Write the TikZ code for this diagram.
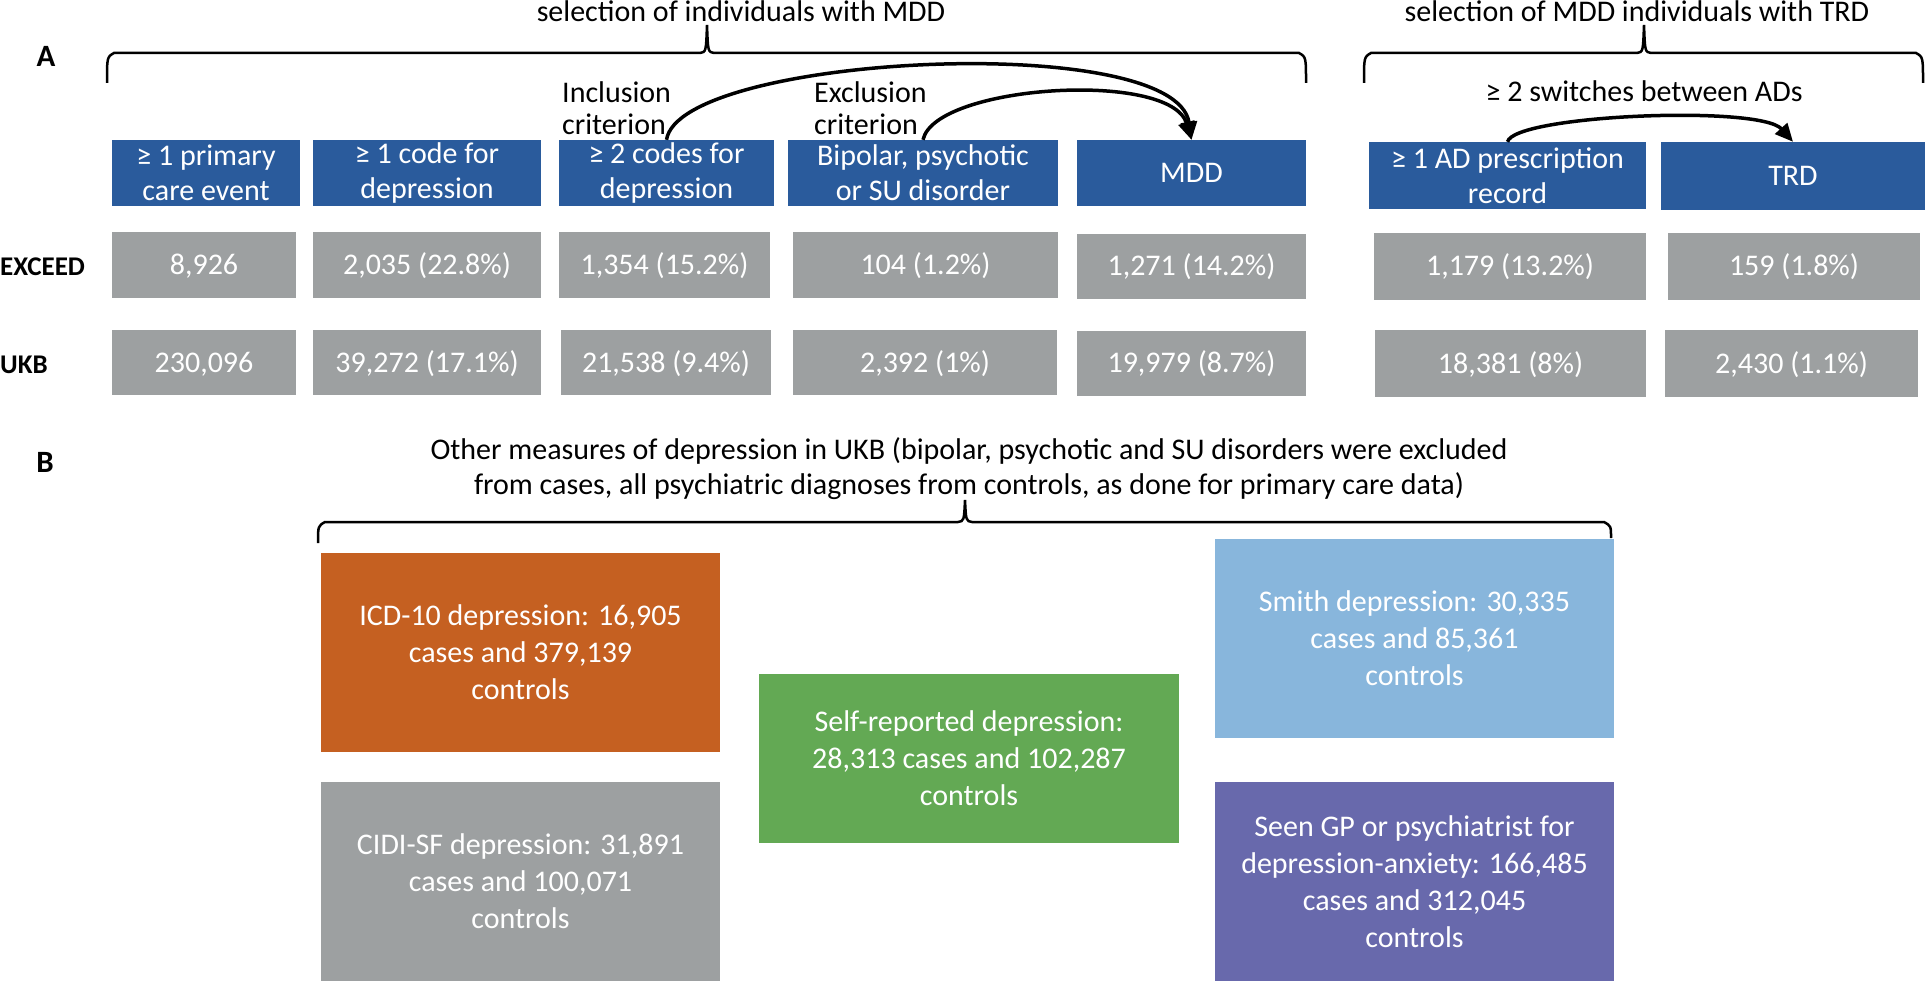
\documentclass[tikz,border=0pt]{standalone}
\usepackage{fontspec}
\setmainfont{Carlito}
\usetikzlibrary{arrows.meta}
\definecolor{hdrblue}{RGB}{42,91,156}
\definecolor{cntgray}{RGB}{157,160,161}
\definecolor{icdorange}{RGB}{197,96,33}
\definecolor{selfgreen}{RGB}{99,169,84}
\definecolor{smithblue}{RGB}{136,182,220}
\definecolor{gppurple}{RGB}{104,105,172}
\begin{document}
\begin{tikzpicture}[x=1pt, y=-1pt,
  hdr/.style={fill=hdrblue, text=white, align=center, inner sep=0pt, minimum height=66pt, font=\fontsize{30}{35}\selectfont},
  cnt/.style={fill=cntgray, text=white, inner sep=0pt, minimum height=66pt, text height=19pt, text depth=0pt, font=\fontsize{30}{35}\selectfont},
  msr/.style={text=white, align=center, inner sep=0pt, minimum width=399pt, minimum height=199pt, font=\fontsize{30}{37}\selectfont},
  ttl/.style={inner sep=0pt, font=\fontsize{30}{35}\selectfont},
  panel/.style={inner sep=0pt, anchor=base, font=\fontsize{31}{35}\selectfont\bfseries},
  row/.style={inner sep=0pt, anchor=base west, font=\fontsize{27}{32}\selectfont\bfseries},
  brace/.style={line width=2.5pt},
  sel/.style={line width=3.5pt, -{Triangle[length=18pt,width=16pt]}}]
\useasboundingbox (0,0) rectangle (1926,981);

% Panel A titles
\node[panel] (pa) at (46,67) {A};
\node[ttl, anchor=base] (selmdd) at (741,22) {selection of individuals with MDD};
\node[ttl, anchor=base] (seltrd) at (1637,22) {selection of MDD individuals with TRD};
\node[ttl, anchor=base] (switch) at (1644,102) {≥ 2 switches between ADs};
\node[ttl, align=left, anchor=west, font=\fontsize{30}{32}\selectfont] (inc) at (562,108.5) {Inclusion\\criterion};
\node[ttl, align=left, anchor=west, font=\fontsize{30}{32}\selectfont] (exc) at (814,108.5) {Exclusion\\criterion};

% Braces
\draw[brace] (107,83) .. controls (107,57) .. (114,53) -- (700,53) .. controls (706,52) .. (707,25) .. controls (708,52) .. (714,53) -- (1299,53) .. controls (1306,57) .. (1306,83);
\draw[brace] (1364,83) .. controls (1364,57) .. (1371,53) -- (1637,53) .. controls (1643,52) .. (1644,25) .. controls (1645,52) .. (1651,53) -- (1916,53) .. controls (1923,57) .. (1923,83);

% Selection steps
\node[hdr, minimum width=188pt] (prim) at (206,173) {≥ 1 primary\\care event};
\node[hdr, minimum width=228pt] (code1) at (427,173) {≥ 1 code for\\depression};
\node[hdr, minimum width=215pt] (code2) at (666.5,173) {≥ 2 codes for\\depression};
\node[hdr, minimum width=270pt] (excl) at (923,173) {Bipolar, psychotic\\or SU disorder};
\node[hdr, minimum width=229pt] (mdd) at (1191.5,173) {MDD};
\node[hdr, minimum width=277pt, minimum height=67pt] (adrx) at (1507.5,175.5) {≥ 1 AD prescription\\record};
\node[hdr, minimum width=264pt, minimum height=68pt] (trd) at (1793,176) {TRD};

% Counts
\node[row] (exceed) at (0,276) {EXCEED};
\node[cnt, minimum width=184pt] (ex1) at (204,265) {8,926};
\node[cnt, minimum width=228pt] (ex2) at (427,265) {2,035 (22.8\%)};
\node[cnt, minimum width=211pt] (ex3) at (664.5,265) {1,354 (15.2\%)};
\node[cnt, minimum width=265pt] (ex4) at (925.5,265) {104 (1.2\%)};
\node[cnt, minimum width=229pt, minimum height=65pt] (ex5) at (1191.5,266.5) {1,271 (14.2\%)};
\node[cnt, minimum width=272pt, minimum height=67pt] (ex6) at (1510,266.5) {1,179 (13.2\%)};
\node[cnt, minimum width=252pt, minimum height=67pt] (ex7) at (1794,266.5) {159 (1.8\%)};

\node[row] (ukb) at (0,373) {UKB};
\node[cnt, minimum width=184pt, minimum height=65pt] (uk1) at (204,362.5) {230,096};
\node[cnt, minimum width=228pt, minimum height=65pt] (uk2) at (427,362.5) {39,272 (17.1\%)};
\node[cnt, minimum width=210pt, minimum height=65pt] (uk3) at (666,362.5) {21,538 (9.4\%)};
\node[cnt, minimum width=264pt, minimum height=65pt] (uk4) at (925,362.5) {2,392 (1\%)};
\node[cnt, minimum width=229pt, minimum height=65pt] (uk5) at (1191.5,363) {19,979 (8.7\%)};
\node[cnt, minimum width=271pt, minimum height=67pt] (uk6) at (1510.5,363.5) {18,381 (8\%)};
\node[cnt, minimum width=253pt, minimum height=67pt] (uk7) at (1791.5,363.5) {2,430 (1.1\%)};

% Criteria arrows
\draw[sel] (code2.north) .. controls +(13,-85) and +(-16,-110) .. (mdd.north);
\draw[sel] (excl.north) .. controls +(12,-55) and +(-21,-70) .. (mdd.north);
\draw[sel] (adrx.north) .. controls +(7,-27) and +(-33,-37) .. (trd.north);

% Panel B
\node[panel] (pb) at (45,472) {B};
\node[ttl, align=center] (other) at (969,469) {Other measures of depression in UKB (bipolar, psychotic and SU disorders were excluded\\from cases, all psychiatric diagnoses from controls, as done for primary care data)};
\draw[brace] (318,543) .. controls (318,526) .. (325,522) -- (958,522) .. controls (964,521) .. (965,500) .. controls (966,521) .. (972,522) -- (1604,522) .. controls (1611,526) .. (1611,538);

% Other measures
\node[msr, fill=icdorange] (icd) at (520.5,652.5) {ICD-10 depression: 16,905\\cases and 379,139\\controls};
\node[msr, fill=cntgray] (cidi) at (520.5,881.5) {CIDI-SF depression: 31,891\\cases and 100,071\\controls};
\node[msr, fill=selfgreen, minimum width=420pt, minimum height=169pt] (self) at (969,758.5) {Self-reported depression:\\28,313 cases and 102,287\\controls};
\node[msr, fill=smithblue] (smith) at (1414.5,638.5) {Smith depression: 30,335\\cases and 85,361\\controls};
\node[msr, fill=gppurple] (gp) at (1414.5,881.5) {Seen GP or psychiatrist for\\depression-anxiety: 166,485\\cases and 312,045\\controls};
\end{tikzpicture}
\end{document}
